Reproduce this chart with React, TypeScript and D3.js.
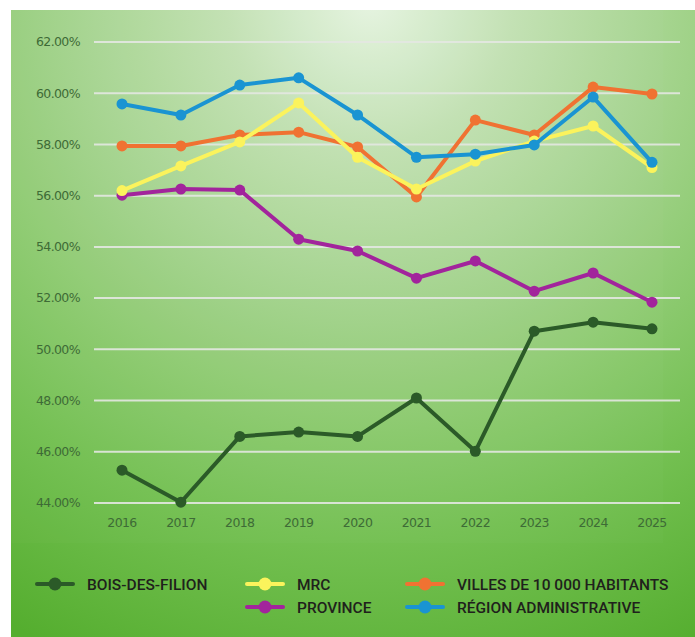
import { useRef, useEffect } from 'react';
import * as d3 from 'd3';

// years on the x axis
const YEARS = ['2016', '2017', '2018', '2019', '2020', '2021', '2022', '2023', '2024', '2025'];
const Y_TICKS = [44, 46, 48, 50, 52, 54, 56, 58, 60, 62];

const BOIS_DES_FILION = [45.28, 44.03, 46.6, 46.77, 46.6, 48.1, 46.02, 50.71, 51.06, 50.8];
const PROVINCE = [56.02, 56.26, 56.22, 54.3, 53.84, 52.78, 53.45, 52.27, 52.98, 51.84];
const VILLES_10000 = [57.94, 57.94, 58.37, 58.48, 57.9, 55.95, 58.95, 58.37, 60.24, 59.97];
const MRC = [56.2, 57.16, 58.1, 59.62, 57.5, 56.26, 57.35, 58.13, 58.72, 57.1];
const REGION = [59.58, 59.15, 60.32, 60.6, 59.15, 57.5, 57.62, 57.98, 59.85, 57.3];

// drawing order (last on top)
const SERIES = [
  { name: 'BOIS-DES-FILION', values: BOIS_DES_FILION, color: '#2b5a28' },
  { name: 'PROVINCE', values: PROVINCE, color: '#a2249c' },
  { name: 'VILLES DE 10 000 HABITANTS', values: VILLES_10000, color: '#f07232' },
  { name: 'MRC', values: MRC, color: '#fbf35c' },
  { name: 'RÉGION ADMINISTRATIVE', values: REGION, color: '#1a94d2' },
];

// legend layout: column / row
const LEGEND = [
  { name: 'BOIS-DES-FILION', col: 0, row: 0 },
  { name: 'MRC', col: 1, row: 0 },
  { name: 'VILLES DE 10 000 HABITANTS', col: 2, row: 0 },
  { name: 'PROVINCE', col: 1, row: 1 },
  { name: 'RÉGION ADMINISTRATIVE', col: 2, row: 1 },
];

const W = 695;
const H = 637;

export default function App() {
  const svgRef = useRef<SVGSVGElement | null>(null);

  useEffect(() => {
    const svg = d3.select(svgRef.current);
    svg.selectAll('*').remove();

    const defs = svg.append('defs');
    const grad = defs.append('radialGradient')
      .attr('id', 'bg')
      .attr('gradientUnits', 'userSpaceOnUse')
      .attr('cx', 370).attr('cy', 0).attr('r', 720)
      .attr('fx', 370).attr('fy', 0);
    grad.append('stop').attr('offset', '0%').attr('stop-color', '#e6f4e1');
    grad.append('stop').attr('offset', '20%').attr('stop-color', '#c2e1b3');
    grad.append('stop').attr('offset', '45%').attr('stop-color', '#a0d288');
    grad.append('stop').attr('offset', '75%').attr('stop-color', '#74c052');
    grad.append('stop').attr('offset', '100%').attr('stop-color', '#55ae2f');

    svg.append('rect')
      .attr('x', 11).attr('y', 10)
      .attr('width', W - 11).attr('height', H - 10)
      .attr('fill', 'url(#bg)');

    // faint panel behind the plot
    svg.append('rect')
      .attr('x', 11).attr('y', 10)
      .attr('width', 652).attr('height', 533)
      .attr('fill', '#ffffff').attr('opacity', 0.02);

    const x = d3.scalePoint<string>().domain(YEARS).range([122, 652]);
    const y = d3.scaleLinear().domain([44, 62]).range([503, 42]);

    // gridlines
    svg.append('g')
      .selectAll('line')
      .data(Y_TICKS)
      .join('line')
      .attr('x1', 94).attr('x2', 680)
      .attr('y1', d => y(d)).attr('y2', d => y(d))
      .attr('stroke', '#e4e8e2')
      .attr('stroke-width', 2)
      .attr('opacity', 0.9);

    // y labels
    svg.append('g')
      .selectAll('text')
      .data(Y_TICKS)
      .join('text')
      .attr('x', 80)
      .attr('y', d => y(d))
      .attr('dy', '0.35em')
      .attr('text-anchor', 'end')
      .attr('fill', '#3e6b36')
      .attr('font-family', 'DejaVu Sans, sans-serif')
      .attr('font-size', 12.5)
      .attr('letter-spacing', -0.6)
      .text(d => d.toFixed(2) + '%');

    // x labels
    svg.append('g')
      .selectAll('text')
      .data(YEARS)
      .join('text')
      .attr('x', d => x(d)!)
      .attr('y', 523)
      .attr('dy', '0.35em')
      .attr('text-anchor', 'middle')
      .attr('fill', '#3e6b36')
      .attr('font-family', 'DejaVu Sans, sans-serif')
      .attr('font-size', 12.5)
      .attr('letter-spacing', -0.6)
      .text(d => d);

    const line = d3.line<number>()
      .x((_, i) => x(YEARS[i])!)
      .y(d => y(d));

    SERIES.forEach(s => {
      const g = svg.append('g');
      g.append('path')
        .attr('d', line(s.values))
        .attr('fill', 'none')
        .attr('stroke', s.color)
        .attr('stroke-width', 4)
        .attr('stroke-linejoin', 'round');
      g.selectAll('circle')
        .data(s.values)
        .join('circle')
        .attr('cx', (_, i) => x(YEARS[i])!)
        .attr('cy', d => y(d))
        .attr('r', 5.5)
        .attr('fill', s.color);
    });

    // legend
    const colX = [37, 247, 407];
    const rowY = [584, 607];
    const colorOf = (n: string) => SERIES.find(s => s.name === n)!.color;
    const lg = svg.append('g');
    LEGEND.forEach(item => {
      const lx = colX[item.col];
      const ly = rowY[item.row];
      const c = colorOf(item.name);
      lg.append('line')
        .attr('x1', lx).attr('x2', lx + 36)
        .attr('y1', ly).attr('y2', ly)
        .attr('stroke', c).attr('stroke-width', 4)
        .attr('stroke-linecap', 'round');
      lg.append('circle')
        .attr('cx', lx + 18).attr('cy', ly).attr('r', 6.5)
        .attr('fill', c);
      lg.append('text')
        .attr('x', lx + 50).attr('y', ly)
        .attr('dy', '0.36em')
        .attr('fill', '#1f211c')
        .attr('font-family', 'Roboto, sans-serif')
        .attr('font-weight', 500)
        .attr('font-size', 15.5)
        .text(item.name);
    });
  }, []);

  return (
    <svg
      ref={svgRef}
      width={W}
      height={H}
      style={{ position: 'absolute', left: 0, top: 0, display: 'block' }}
    />
  );
}
